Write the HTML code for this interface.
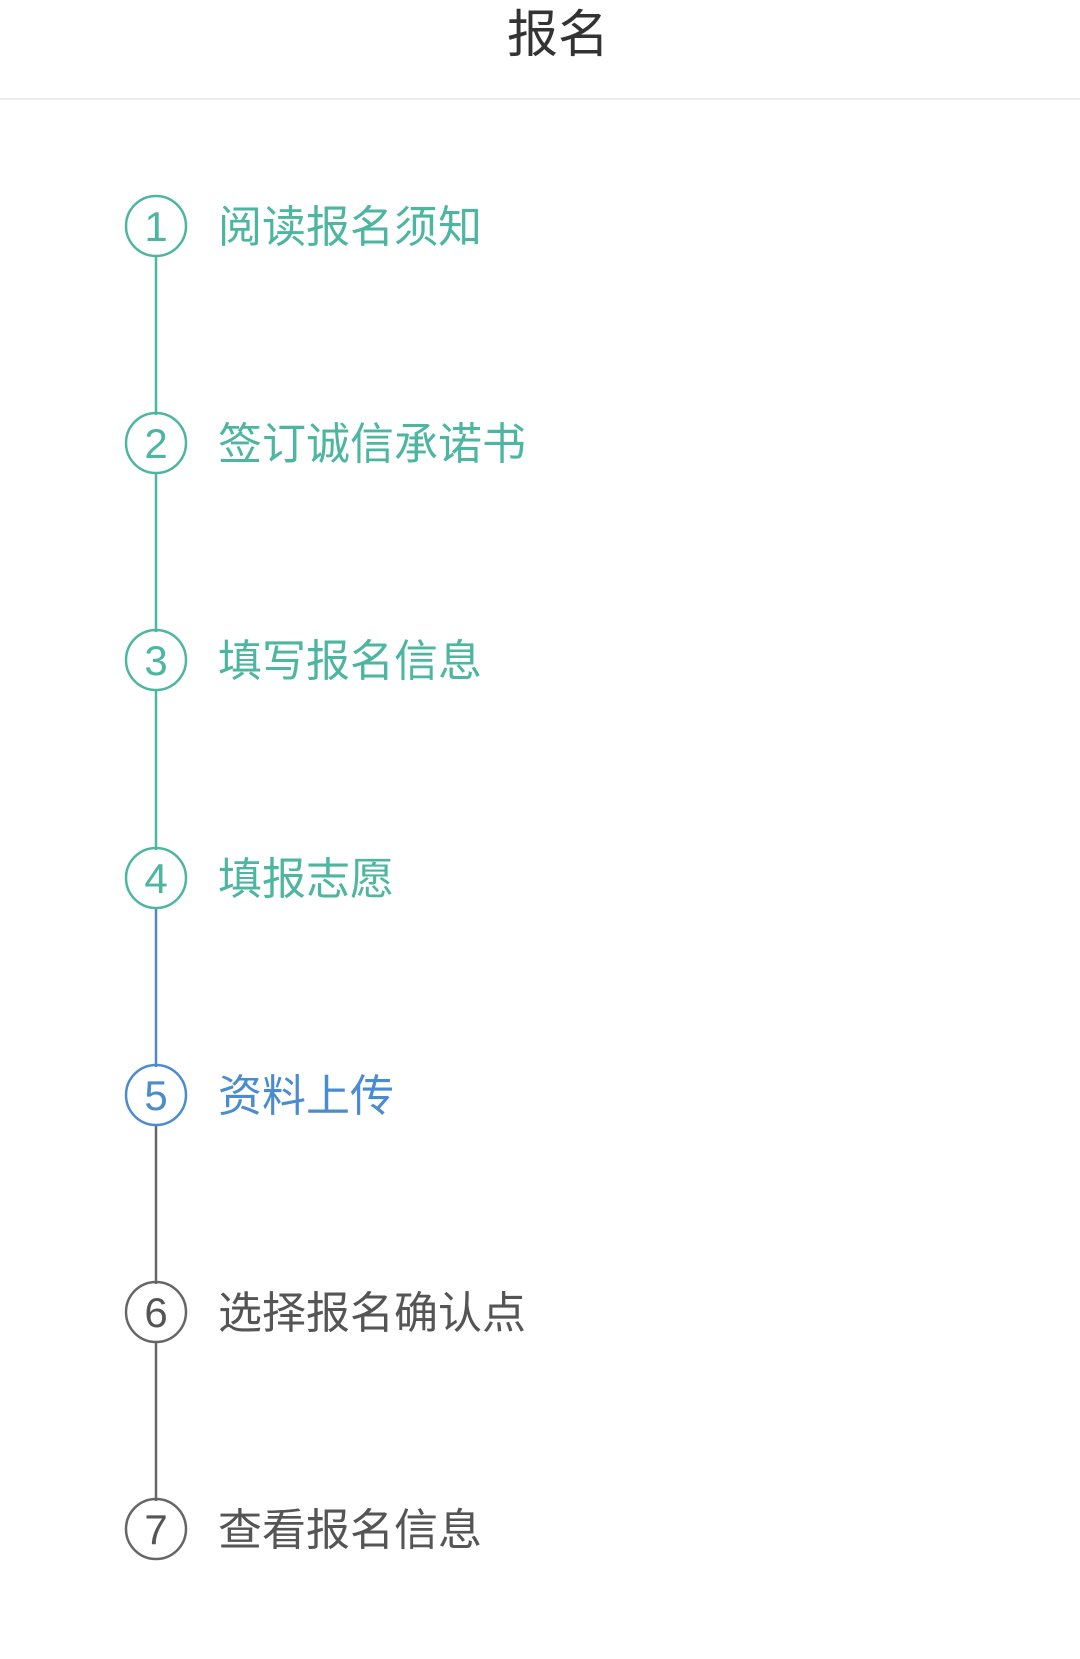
<!DOCTYPE html>
<html><head><meta charset="utf-8"><style>
html,body{margin:0;padding:0;background:#fff;width:1080px;height:1659px;overflow:hidden}
svg text{font-family:"Liberation Sans","Noto Sans CJK SC",sans-serif}
</style></head><body>
<svg width="1080" height="1659" xmlns="http://www.w3.org/2000/svg">
<text x="558" y="52" font-size="51" fill="#333" text-anchor="middle" font-family="Noto Sans CJK SC, sans-serif">报名</text>
<rect x="0" y="98" width="1080" height="2" fill="#ececec"/>
<g stroke-width="2.5" fill="none">
<line x1="156" y1="255" x2="156" y2="415" stroke="#4db6a0"/>
<line x1="156" y1="472" x2="156" y2="632" stroke="#4db6a0"/>
<line x1="156" y1="689" x2="156" y2="850" stroke="#4db6a0"/>
<line x1="156" y1="907" x2="156" y2="1067" stroke="#5288c4"/>
<line x1="156" y1="1124" x2="156" y2="1284" stroke="#666"/>
<line x1="156" y1="1341" x2="156" y2="1501" stroke="#666"/>
<circle cx="156" cy="226" r="30" stroke="#4db6a0"/>
<circle cx="156" cy="443" r="30" stroke="#4db6a0"/>
<circle cx="156" cy="660" r="30" stroke="#4db6a0"/>
<circle cx="156" cy="878" r="30" stroke="#4db6a0"/>
<circle cx="156" cy="1095" r="30" stroke="#4a8ccf"/>
<circle cx="156" cy="1312" r="30" stroke="#666"/>
<circle cx="156" cy="1529" r="30" stroke="#666"/>
</g>
<g font-size="42" text-anchor="middle">
<text x="156" y="241" fill="#4db6a0">1</text>
<text x="156" y="458" fill="#4db6a0">2</text>
<text x="156" y="675" fill="#4db6a0">3</text>
<text x="156" y="893" fill="#4db6a0">4</text>
<text x="156" y="1110" fill="#4a8ccf">5</text>
<text x="156" y="1327" fill="#555">6</text>
<text x="156" y="1544" fill="#555">7</text>
</g>
<g font-size="44">
<text x="218" y="242" fill="#4db6a0">阅读报名须知</text>
<text x="218" y="459" fill="#4db6a0">签订诚信承诺书</text>
<text x="218" y="676" fill="#4db6a0">填写报名信息</text>
<text x="218" y="894" fill="#4db6a0">填报志愿</text>
<text x="218" y="1111" fill="#4a8ccf">资料上传</text>
<text x="218" y="1328" fill="#555">选择报名确认点</text>
<text x="218" y="1545" fill="#555">查看报名信息</text>
</g>
</svg>
</body></html>
